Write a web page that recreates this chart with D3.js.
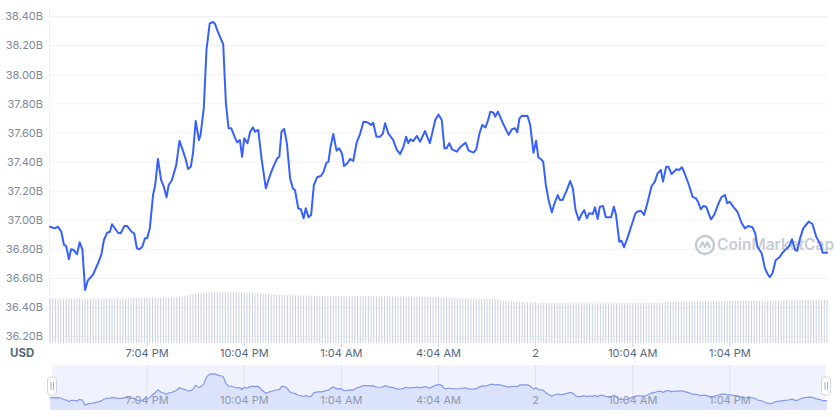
<!DOCTYPE html>
<html><head><meta charset="utf-8">
<script src="https://cdn.jsdelivr.net/npm/d3@7"></script>
<style>
body{margin:0;background:#fff;}
svg{display:block;font-family:Inter,"Noto Sans",sans-serif;}
</style>
</head><body>
<svg id="c" width="840" height="417"></svg>
<script>
// minutes since 4:04 PM (day 1)
const minutes = [
0,9,15,21,26,30,35,39,44,50,
55,60,65,70,80,89,95,100,106,111,
115,126,131,138,143,151,156,161,166,171,
176,180,185,191,195,200,206,211,216,220,
226,234,240,246,251,256,261,265,270,276,
279,285,290,296,302,306,311,321,326,331,
336,342,347,352,356,360,366,371,376,380,
386,392,400,408,414,421,425,429,434,439,
445,450,454,460,465,470,474,479,484,489,
495,502,507,512,516,520,525,531,536,541,
545,551,556,562,568,575,581,588,595,599,
605,612,617,621,627,636,643,649,655,660,
664,668,673,680,686,695,704,714,720,726,
731,735,740,745,754,760,770,776,785,790,
796,801,807,811,816,822,825,830,839,850,
856,862,866,870,875,885,890,896,901,905,
910,914,919,924,930,935,941,945,950,958,
964,969,974,980,986,990,995,999,1006,1010,
1015,1019,1025,1030,1040,1045,1049,1055,1059,1064,
1071,1079,1085,1088,1095,1101,1107,1115,1121,1126,
1132,1136,1142,1146,1152,1161,1166,1171,1175,1183,
1191,1197,1201,1206,1211,1216,1225,1231,1239,1245,
1251,1255,1260,1266,1274,1282,1288,1294,1302,1307,
1311,1319,1325,1330,1334,1339,1345,1352,1356,1362,
1366,1370,1375,1381,1385,1390,1396,1401,1406,1413,
1420,1428,1432,1440
];
// market cap, billions USD
const price = [
36.955,36.944,36.955,36.921,36.830,36.823,36.731,36.800,36.795,36.766,
36.848,36.800,36.520,36.584,36.628,36.704,36.761,36.864,36.914,36.921,
36.972,36.914,36.910,36.960,36.960,36.921,36.910,36.807,36.800,36.818,
36.876,36.876,36.944,37.173,37.242,37.421,37.276,37.230,37.157,37.242,
37.276,37.379,37.546,37.482,37.425,37.352,37.368,37.460,37.682,37.551,
37.586,37.769,38.170,38.353,38.362,38.348,38.296,38.209,37.803,37.632,
37.632,37.574,37.535,37.551,37.436,37.563,37.529,37.608,37.638,37.608,
37.620,37.425,37.219,37.311,37.368,37.425,37.436,37.608,37.627,37.529,
37.288,37.219,37.208,37.082,37.075,37.013,37.082,37.020,37.036,37.242,
37.295,37.304,37.333,37.391,37.402,37.505,37.592,37.478,37.494,37.460,
37.372,37.391,37.421,37.407,37.529,37.597,37.677,37.673,37.654,37.670,
37.574,37.574,37.597,37.666,37.597,37.551,37.482,37.455,37.505,37.574,
37.529,37.556,37.544,37.579,37.540,37.613,37.529,37.689,37.726,37.689,
37.494,37.494,37.529,37.487,37.471,37.501,37.533,37.478,37.464,37.487,
37.597,37.654,37.638,37.677,37.746,37.739,37.711,37.746,37.670,37.586,
37.625,37.632,37.604,37.700,37.718,37.716,37.654,37.464,37.546,37.432,
37.419,37.402,37.242,37.139,37.054,37.116,37.173,37.139,37.139,37.208,
37.269,37.219,37.070,37.001,37.047,37.070,37.013,37.047,37.043,37.089,
37.008,37.093,37.098,37.020,37.020,37.093,37.036,36.852,36.859,36.814,
36.887,36.979,37.047,37.058,37.065,37.036,37.116,37.235,37.265,37.322,
37.345,37.265,37.368,37.368,37.317,37.350,37.345,37.364,37.333,37.254,
37.161,37.150,37.127,37.075,37.098,37.093,37.006,37.036,37.116,37.161,
37.173,37.116,37.127,37.093,37.058,36.979,36.944,36.960,36.951,36.910,
36.818,36.773,36.669,36.630,36.608,36.635,36.726,36.745,36.768,36.795,
36.807,36.823,36.869,36.795,36.790,36.876,36.944,36.967,36.990,36.974,
36.887,36.830,36.777,36.777
];
// volume, 5-minute steps (relative units)
const volume = [
1.78,1.78,1.78,1.78,1.78,1.78,1.78,1.78,1.78,1.78,1.78,1.78,1.78,1.78,1.78,1.78,1.78,1.78,1.78,1.78,
1.78,1.78,1.79,1.79,1.79,1.79,1.79,1.79,1.79,1.79,1.80,1.80,1.80,1.80,1.80,1.80,1.80,1.81,1.81,1.81,
1.81,1.81,1.81,1.82,1.82,1.82,1.82,1.83,1.83,1.85,1.88,1.90,1.93,1.95,1.97,1.99,2.00,2.01,2.02,2.02,
2.03,2.03,2.03,2.03,2.03,2.03,2.03,2.03,2.03,2.03,2.03,2.02,2.02,2.02,2.02,2.01,2.00,1.99,1.98,1.97,
1.96,1.95,1.94,1.94,1.93,1.93,1.92,1.92,1.92,1.91,1.91,1.91,1.90,1.90,1.90,1.90,1.89,1.89,1.89,1.89,
1.88,1.88,1.88,1.88,1.88,1.88,1.88,1.88,1.87,1.87,1.87,1.87,1.87,1.87,1.87,1.87,1.87,1.87,1.87,1.87,
1.86,1.86,1.86,1.86,1.86,1.86,1.86,1.86,1.86,1.86,1.85,1.85,1.85,1.85,1.85,1.85,1.85,1.85,1.85,1.85,
1.84,1.84,1.84,1.84,1.83,1.82,1.81,1.80,1.80,1.80,1.80,1.79,1.79,1.79,1.79,1.79,1.78,1.78,1.78,1.78,
1.77,1.77,1.77,1.76,1.76,1.76,1.75,1.72,1.70,1.68,1.67,1.66,1.65,1.65,1.64,1.64,1.63,1.63,1.62,1.62,
1.62,1.61,1.61,1.61,1.61,1.60,1.60,1.60,1.60,1.60,1.60,1.60,1.59,1.59,1.59,1.59,1.59,1.59,1.59,1.59,
1.59,1.59,1.59,1.59,1.59,1.59,1.59,1.59,1.59,1.59,1.60,1.60,1.60,1.60,1.60,1.60,1.60,1.60,1.60,1.60,
1.60,1.60,1.60,1.60,1.60,1.60,1.60,1.62,1.64,1.65,1.65,1.65,1.65,1.65,1.66,1.66,1.66,1.66,1.66,1.66,
1.67,1.67,1.67,1.67,1.67,1.67,1.67,1.67,1.67,1.67,1.68,1.68,1.68,1.68,1.68,1.68,1.68,1.68,1.68,1.68,
1.68,1.68,1.68,1.68,1.69,1.69,1.69,1.69,1.69,1.70,1.70,1.70,1.70,1.70,1.71,1.71,1.71,1.71,1.72,1.72,
1.72,1.72,1.72,1.72,1.73,1.73,1.73,1.73,1.73
];
const volumeStep = 5;
const yTicks = [36.2,36.4,36.6,36.8,37.0,37.2,37.4,37.6,37.8,38.0,38.2,38.4];
const xTickMinutes = [180,360,540,720,900,1080,1260];
const xTickLabels = ["7:04 PM","10:04 PM","1:04 AM","4:04 AM","2","10:04 AM","1:04 PM"];

const svg = d3.select("#c");
const x = d3.scaleLinear().domain([0,1440]).range([50,827]);
const y = d3.scaleLinear().domain([36.2,38.4]).range([336.6,16.5]);
const yVol = d3.scaleLinear().domain([0,2]).range([343,293]);
const yNav = d3.scaleLinear().domain([36.52,38.36]).range([405,374]);
const pts = minutes.map((m,i)=>({m, v: price[i]}));

// grid
svg.append("g").selectAll("line").data(yTicks).join("line")
  .attr("x1",50).attr("x2",828)
  .attr("y1",d=>y(d)).attr("y2",d=>y(d))
  .attr("stroke","#eff2f5").attr("stroke-width",1);
svg.append("line").attr("x1",49.5).attr("x2",49.5).attr("y1",8).attr("y2",343)
  .attr("stroke","#eff2f5");

// y labels
svg.append("g").selectAll("text").data(yTicks).join("text")
  .attr("x",43).attr("y",d=>y(d)).attr("dy","0.35em")
  .attr("text-anchor","end").attr("font-size",11).attr("fill","#808a9d")
  .text(d=>d.toFixed(2)+"B");

// volume bars
svg.append("g").selectAll("line").data(volume).join("line")
  .attr("x1",(d,i)=>x(i*volumeStep)).attr("x2",(d,i)=>x(i*volumeStep))
  .attr("y1",yVol(0)).attr("y2",d=>yVol(d))
  .attr("stroke","#c9d0dd").attr("stroke-width",1);

// watermark
const wm = svg.append("g").attr("transform","translate(705,245)");
wm.append("circle").attr("r",9).attr("fill","none").attr("stroke","#c3c9d5").attr("stroke-width",2.4);
wm.append("path").attr("d","M-5,3 L-2.5,-3 L0,2 L2.5,-3 L5,3").attr("fill","none")
  .attr("stroke","#c3c9d5").attr("stroke-width",2).attr("stroke-linejoin","round");
wm.append("text").attr("x",12).attr("y",0).attr("dy","0.35em")
  .attr("font-size",15.5).attr("font-weight",600).attr("fill","#c6ccd8").text("CoinMarketCap");

// price line
svg.append("path").datum(pts)
  .attr("d", d3.line().x(d=>x(d.m)).y(d=>y(d.v)))
  .attr("fill","none").attr("stroke","#3861fb").attr("stroke-width",2)
  .attr("stroke-linejoin","round").attr("stroke-linecap","round");

// x axis
const xa = svg.append("g");
xa.selectAll("line").data(xTickMinutes).join("line")
  .attr("x1",d=>x(d)).attr("x2",d=>x(d)).attr("y1",343).attr("y2",347)
  .attr("stroke","#cfd6e4");
xa.selectAll("text").data(xTickMinutes).join("text")
  .attr("x",d=>x(d)).attr("y",357).attr("text-anchor","middle")
  .attr("font-size",11).attr("fill","#58667e")
  .text((d,i)=>xTickLabels[i]);
svg.append("text").attr("x",10).attr("y",357).attr("font-size",11.5)
  .attr("font-weight",700).attr("fill","#58667e").text("USD");

// navigator
const nav = svg.append("g");
nav.append("rect").attr("x",52).attr("y",365).attr("width",774).attr("height",45).attr("fill","#f0f3fd");
nav.selectAll("line.g").data(xTickMinutes).join("line")
  .attr("x1",d=>x(d)).attr("x2",d=>x(d)).attr("y1",365).attr("y2",410)
  .attr("stroke","#dde2f0");
nav.append("path").datum(pts)
  .attr("d", d3.area().x(d=>x(d.m)).y0(410).y1(d=>yNav(d.v)))
  .attr("fill","#dbe2fb");
nav.append("path").datum(pts)
  .attr("d", d3.line().x(d=>x(d.m)).y(d=>yNav(d.v)))
  .attr("fill","none").attr("stroke","#8599ec").attr("stroke-width",1.2);
nav.selectAll("text").data(xTickMinutes).join("text")
  .attr("x",d=>x(d)).attr("y",404).attr("text-anchor","middle")
  .attr("font-size",11).attr("fill","#8f99ad")
  .text((d,i)=>xTickLabels[i]);
[52,826].forEach(hx=>{
  const h = nav.append("g").attr("transform",`translate(${hx},386)`);
  h.append("rect").attr("x",-4.5).attr("y",-9).attr("width",9).attr("height",18).attr("rx",3)
    .attr("fill","#fff").attr("stroke","#cfd6e4");
  h.append("line").attr("x1",-1).attr("x2",-1).attr("y1",-4).attr("y2",4).attr("stroke","#a6b0c3");
  h.append("line").attr("x1",1.5).attr("x2",1.5).attr("y1",-4).attr("y2",4).attr("stroke","#a6b0c3");
});
</script>
</body></html>
